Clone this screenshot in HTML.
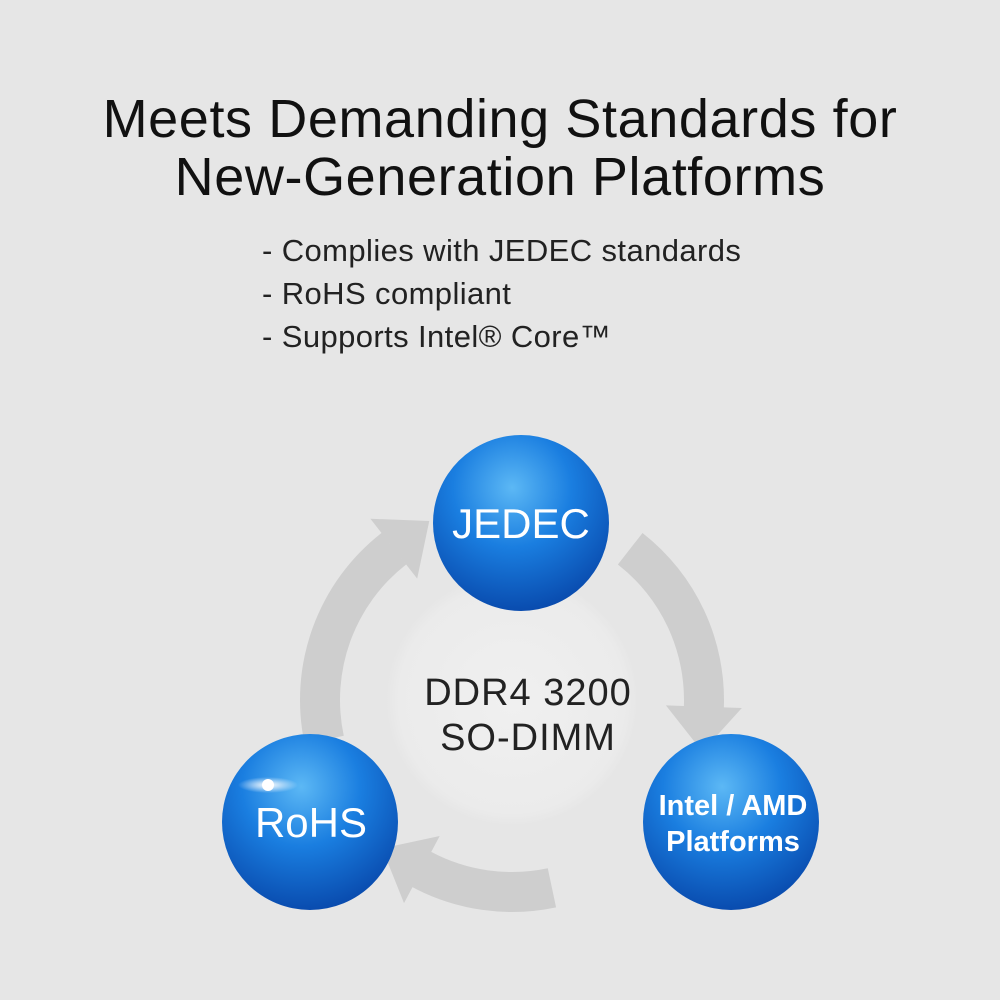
<!DOCTYPE html>
<html><head><meta charset="utf-8"><style>
html,body{margin:0;padding:0;background:#e6e6e6;}
body{width:1000px;height:1000px;position:relative;overflow:hidden;font-family:"Liberation Sans",sans-serif;}
.t{position:absolute;left:0;width:1000px;text-align:center;font-size:54px;color:#111;letter-spacing:0.6px;}
.b{position:absolute;left:262px;font-size:31px;color:#222;letter-spacing:0.4px;}
</style></head><body>
<div class="t" style="top:88px">Meets Demanding Standards for</div>
<div class="t" style="top:146px">New-Generation Platforms</div>
<div class="b" style="top:233px">- Complies with JEDEC standards</div>
<div class="b" style="top:276px">- RoHS compliant</div>
<div class="b" style="top:319px">- Supports Intel® Core™</div>
<svg id="s" width="1000" height="1000" style="position:absolute;left:0;top:0">
<defs>
<radialGradient id="bg" cx="45%" cy="30%" r="75%">
<stop offset="0" stop-color="#5cb8f5"/><stop offset="0.45" stop-color="#1a7ee0"/><stop offset="1" stop-color="#0745a8"/>
</radialGradient>
<radialGradient id="cg" cx="50%" cy="50%" r="50%">
<stop offset="0" stop-color="#f0f0f0"/><stop offset="0.9" stop-color="#ebebeb"/><stop offset="1" stop-color="#e6e6e6"/>
</radialGradient>
<radialGradient id="gl" cx="50%" cy="50%" r="50%">
<stop offset="0" stop-color="#fff"/><stop offset="1" stop-color="#fff" stop-opacity="0"/>
</radialGradient>
</defs>
<circle cx="512" cy="700" r="126" fill="url(#cg)"/>
<g id="arr" fill="#cecece"></g>
<g font-family="Liberation Sans,sans-serif" text-anchor="middle">
<text x="528" y="705" font-size="38" fill="#222" letter-spacing="1">DDR4 3200</text>
<text x="528" y="750" font-size="38" fill="#222" letter-spacing="1">SO-DIMM</text>
</g>
<g>
<circle cx="521" cy="523" r="88" fill="url(#bg)"/>
<circle cx="310" cy="822" r="88" fill="url(#bg)"/>
<circle cx="731" cy="822" r="88" fill="url(#bg)"/>
<ellipse cx="268" cy="785" rx="30" ry="8" fill="url(#gl)"/>
<circle cx="268" cy="785" r="6" fill="#fff"/>
</g>
<g font-family="Liberation Sans,sans-serif" text-anchor="middle" fill="#fff">
<text x="521" y="538" font-size="42">JEDEC</text>
<text x="311" y="837" font-size="42">RoHS</text>
<text x="733" y="815" font-size="29" font-weight="bold">Intel / AMD</text>
<text x="733" y="851" font-size="29" font-weight="bold">Platforms</text>
</g>
</svg>
<script>
(function(){
var cx=512,cy=700,R=192,w=40,g=document.getElementById('arr');
function P(a,r){a=a*Math.PI/180;return [cx+r*Math.cos(a),cy+r*Math.sin(a)];}
function arc(a0,a1){
 var o0=P(a0,R+w/2),o1=P(a1,R+w/2),i1=P(a1,R-w/2),i0=P(a0,R-w/2);
 var d='M'+o0+' A'+(R+w/2)+','+(R+w/2)+' 0 0 1 '+o1+' L'+i1+' A'+(R-w/2)+','+(R-w/2)+' 0 0 0 '+i0+'Z';
 var a=a1*Math.PI/180,tx=-Math.sin(a),ty=Math.cos(a);
 var b1=P(a1,R+w/2+18),b2=P(a1,R-w/2-18),m=P(a1,R);
 var tip=[m[0]+tx*45,m[1]+ty*45];
 d+=' M'+b1+' L'+tip+' L'+b2+'Z';
 var p=document.createElementNS('http://www.w3.org/2000/svg','path');p.setAttribute('d',d);g.appendChild(p);
}
arc(168,232);arc(-52,2);arc(78,118);
})();
</script>
</body></html>
